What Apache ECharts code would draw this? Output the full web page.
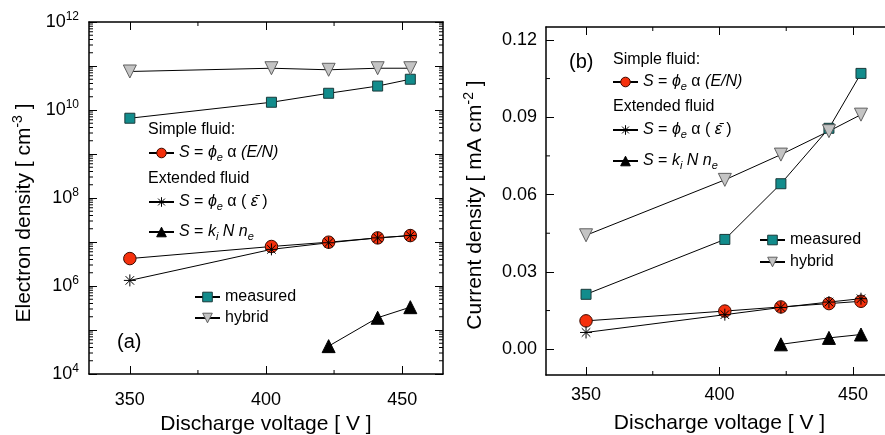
<!DOCTYPE html>
<html>
<head>
<meta charset="utf-8">
<script src="https://cdn.jsdelivr.net/npm/echarts@6/dist/echarts.min.js"></script>
<style>
  html, body { margin: 0; background: #fff; }
  #chart { width: 885px; height: 435px; }
</style>
</head>
<body>
<div id="chart"></div>
<script>
// data
const voltage = [350, 402, 423, 441, 453]
const voltageKi = [423, 441, 453]

// (a) electron density [cm^-3]
const densMeasured = [6.5e9, 1.5e10, 2.4e10, 3.5e10, 5.0e10]
const densHybrid = [7.5e10, 8.9e10, 8.2e10, 8.9e10, 8.9e10]
const densSimple = [4.2e6, 7.9e6, 9.9e6, 1.24e7, 1.4e7]
const densExtended = [1.34e6, 6.8e6, 9.6e6, 1.24e7, 1.4e7]
const densKi = [4.3e4, 1.9e5, 3.3e5]

// (b) current density [mA cm^-2]
const curMeasured = [0.0213, 0.0426, 0.0642, 0.0857, 0.107]
const curHybrid = [0.0442, 0.0657, 0.0755, 0.0846, 0.091]
const curSimple = [0.011, 0.0148, 0.0164, 0.0177, 0.0186]
const curExtended = [0.0065, 0.0134, 0.0162, 0.0183, 0.0196]
const curKi = [0.0019, 0.0044, 0.0057]

// ticks
const xMajor = [350, 400, 450]
const xMinor = [375, 425]
const logMajor = [1e4, 1e5, 1e6, 1e7, 1e8, 1e9, 1e10, 1e11, 1e12]
const logLabels = [1e4, 1e6, 1e8, 1e10, 1e12]
const logMinor = []
for (let e = 4; e < 12; e++) {
    for (let k = 2; k <= 9; k++) logMinor.push(k * Math.pow(10, e))
}
const curMajor = [0, 0.03, 0.06, 0.09, 0.12]
const curMinor = [0.015, 0.045, 0.075, 0.105]

const xRange = { min: 335, max: 465 }
const logRange = { type: 'log', min: 1e4, max: 1e12 }
const curRange = { min: -0.01, max: 0.125 }

const pairs = (xs, ys) => xs.map((x, i) => [x, ys[i]])
const font = '"Liberation Sans", Arial, sans-serif'
const black = '#000'

const chart = echarts.init(document.getElementById('chart'))

// axis with the frame line, major ticks inside, optional labels and name
function axis(gridIndex, position, opts) {
    const a = {
        type: opts.type || 'value',
        gridIndex,
        position,
        min: opts.min,
        max: opts.max,
        splitLine: { show: false },
        axisLine: { show: true, onZero: false, lineStyle: { color: black, width: 1.5 } },
        axisTick: { show: true, inside: true, length: 8, customValues: opts.ticks, lineStyle: { color: black, width: 1 } },
        axisLabel: { show: false }
    }
    if (opts.type === 'log') a.logBase = 10
    if (opts.labels) {
        a.axisLabel = {
            show: true,
            customValues: opts.labels,
            margin: opts.margin,
            fontSize: 18,
            color: black,
            fontFamily: font,
            formatter: opts.formatter,
            rich: opts.rich
        }
    }
    if (opts.name) {
        a.name = opts.name
        a.nameLocation = 'middle'
        a.nameGap = opts.nameGap
        a.nameTextStyle = {
            fontSize: 21, color: black, fontFamily: font,
            padding: opts.namePad || 0,
            rich: {
                t: { fontSize: 21, fontFamily: font, lineHeight: 26 },
                s: { fontSize: 14, fontFamily: font, lineHeight: 14, verticalAlign: 'top' }
            }
        }
    }
    return a
}

function xAxes(g, margin) {
    return [
        axis(g, 'bottom', { ...xRange, ticks: xMajor, labels: xMajor, margin,
            name: 'Discharge voltage [ V ]', nameGap: 38 }),
        axis(g, 'top', { ...xRange, ticks: xMajor })
    ]
}

const yAxes = [
    axis(0, 'left', { ...logRange, ticks: logMajor, labels: logLabels, margin: 10,
        formatter: v => '{b|10}{s|' + Math.round(Math.log10(v)) + '}',
        rich: {
            b: { fontSize: 18, fontFamily: font, lineHeight: 22 },
            s: { fontSize: 12, fontFamily: font, lineHeight: 12, verticalAlign: 'top' }
        },
        name: '{t|Electron density [ cm}{s|-3}{t| ]}', nameGap: 52, namePad: [0, 30, 0, 0] }),
    axis(0, 'right', { ...logRange, ticks: logMajor }),
    axis(1, 'left', { ...curRange, ticks: curMajor, labels: curMajor, margin: 9,
        formatter: v => v.toFixed(2),
        name: '{t|Current density [ mA cm}{s|-2}{t| ]}', nameGap: 58, namePad: [0, 8, 0, 0] }),
    axis(1, 'right', { ...curRange, ticks: curMajor })
]

// short minor ticks on all four sides of a panel, placed through the axes' scales
function minorTicks(g, xs, ys, yMin, yMax) {
    const len = 4
    const data = xs.map(v => ['x', v]).concat(ys.map(v => ['y', v]))
    return {
        type: 'custom',
        xAxisIndex: g * 2,
        yAxisIndex: g * 2,
        silent: true,
        clip: false,
        z: 5,
        data: data.map((d, i) => i),
        renderItem(params, api) {
            const [dim, v] = data[params.dataIndex]
            const st = { stroke: black, lineWidth: 1 }
            if (dim === 'x') {
                const b = api.coord([v, yMin]), t = api.coord([v, yMax])
                return { type: 'group', children: [
                    { type: 'line', shape: { x1: b[0], y1: b[1], x2: b[0], y2: b[1] - len }, style: st },
                    { type: 'line', shape: { x1: t[0], y1: t[1], x2: t[0], y2: t[1] + len }, style: st }
                ] }
            }
            const l = api.coord([xRange.min, v]), r = api.coord([xRange.max, v])
            return { type: 'group', children: [
                { type: 'line', shape: { x1: l[0], y1: l[1], x2: l[0] + len, y2: l[1] }, style: st },
                { type: 'line', shape: { x1: r[0], y1: r[1], x2: r[0] - len, y2: r[1] }, style: st }
            ] }
        }
    }
}

const star = 'path://M0,-10L0,10M-10,0L10,0M-7.1,-7.1L7.1,7.1M-7.1,7.1L7.1,-7.1'
const styles = {
    measured: { symbol: 'rect', symbolSize: 10, itemStyle: { color: '#128c8c', borderColor: '#1a3a3a', borderWidth: 1 } },
    hybrid: { symbol: 'triangle', symbolRotate: 180, symbolSize: 13, itemStyle: { color: '#c4c4c4', borderColor: '#606060', borderWidth: 1 } },
    simple: { symbol: 'circle', symbolSize: 12.5, itemStyle: { color: '#f5300c', borderColor: '#3a0a00', borderWidth: 1 } },
    extended: { symbol: star, symbolSize: 12, itemStyle: { color: 'rgba(0,0,0,0)', borderColor: black, borderWidth: 1 } },
    ki: { symbol: 'triangle', symbolSize: 13, itemStyle: { color: black, borderColor: black, borderWidth: 1 } }
}

function line(name, g, xs, ys) {
    return {
        name,
        type: 'line',
        xAxisIndex: g * 2,
        yAxisIndex: g * 2,
        data: pairs(xs, ys),
        showSymbol: true,
        lineStyle: { color: black, width: 1 },
        emphasis: { disabled: true },
        ...styles[name]
    }
}

const series = [
    minorTicks(0, xMinor, logMinor, logRange.min, logRange.max),
    minorTicks(1, xMinor, curMinor, curRange.min, curRange.max),
    line('measured', 0, voltage, densMeasured),
    line('hybrid', 0, voltage, densHybrid),
    line('simple', 0, voltage, densSimple),
    line('extended', 0, voltage, densExtended),
    line('ki', 0, voltageKi, densKi),
    line('measured', 1, voltage, curMeasured),
    line('hybrid', 1, voltage, curHybrid),
    line('simple', 1, voltage, curSimple),
    line('extended', 1, voltage, curExtended),
    line('ki', 1, voltageKi, curKi)
]

const legendText = {
    measured: 'measured',
    hybrid: 'hybrid',
    simple: '{i|S} = {i|\u03d5}{sub|e} \u03b1 {i|(E/N)}',
    extended: '{i|S} = {i|\u03d5}{sub|e} \u03b1 ( {i|\u03b5\u0304} )',
    ki: '{i|S} = {i|k}{sub|i} {i|N n}{sub|e}'
}

function legend(name, left, cy) {
    return {
        data: [name],
        left,
        top: cy - 10,
        padding: 0,
        itemWidth: 25,
        itemHeight: 12,
        selectedMode: false,
        formatter: n => legendText[n],
        itemStyle: { borderWidth: 1 },
        textStyle: {
            fontSize: 16, color: black, fontFamily: font, lineHeight: 20,
            rich: {
                i: { fontSize: 16, fontStyle: 'italic', fontFamily: font, lineHeight: 20 },
                sub: { fontSize: 11, fontStyle: 'italic', fontFamily: font, lineHeight: 11, verticalAlign: 'bottom' }
            }
        }
    }
}

function label(text, x, y, size) {
    return { type: 'text', x, y, style: { text, fontSize: size, fontFamily: font, fill: black, verticalAlign: 'middle' } }
}

chart.setOption({
    animation: false,
    backgroundColor: '#fff',
    grid: [
        { left: 89, top: 22, width: 354, height: 352, outerBoundsMode: 'none', containLabel: false },
        { left: 546, top: 27, width: 347, height: 348, outerBoundsMode: 'none', containLabel: false }
    ],
    xAxis: [...xAxes(0, 17), ...xAxes(1, 11)],
    yAxis: yAxes,
    legend: [
        legend('simple', 148, 153),
        legend('extended', 148, 202),
        legend('ki', 148, 232),
        legend('measured', 194, 297),
        legend('hybrid', 194, 318),
        legend('simple', 612, 82),
        legend('extended', 612, 130),
        legend('ki', 612, 161),
        legend('measured', 759, 240),
        legend('hybrid', 759, 262)
    ],
    graphic: [
        label('Simple fluid:', 148, 130, 16),
        label('Extended fluid', 148, 179, 16),
        label('(a)', 117, 342, 20),
        label('(b)', 569, 62, 20),
        label('Simple fluid:', 613, 60, 16),
        label('Extended fluid', 613, 107, 16)
    ],
    series
})

window.addEventListener('resize', () => {
    chart.resize()
})
</script>
</body>
</html>
